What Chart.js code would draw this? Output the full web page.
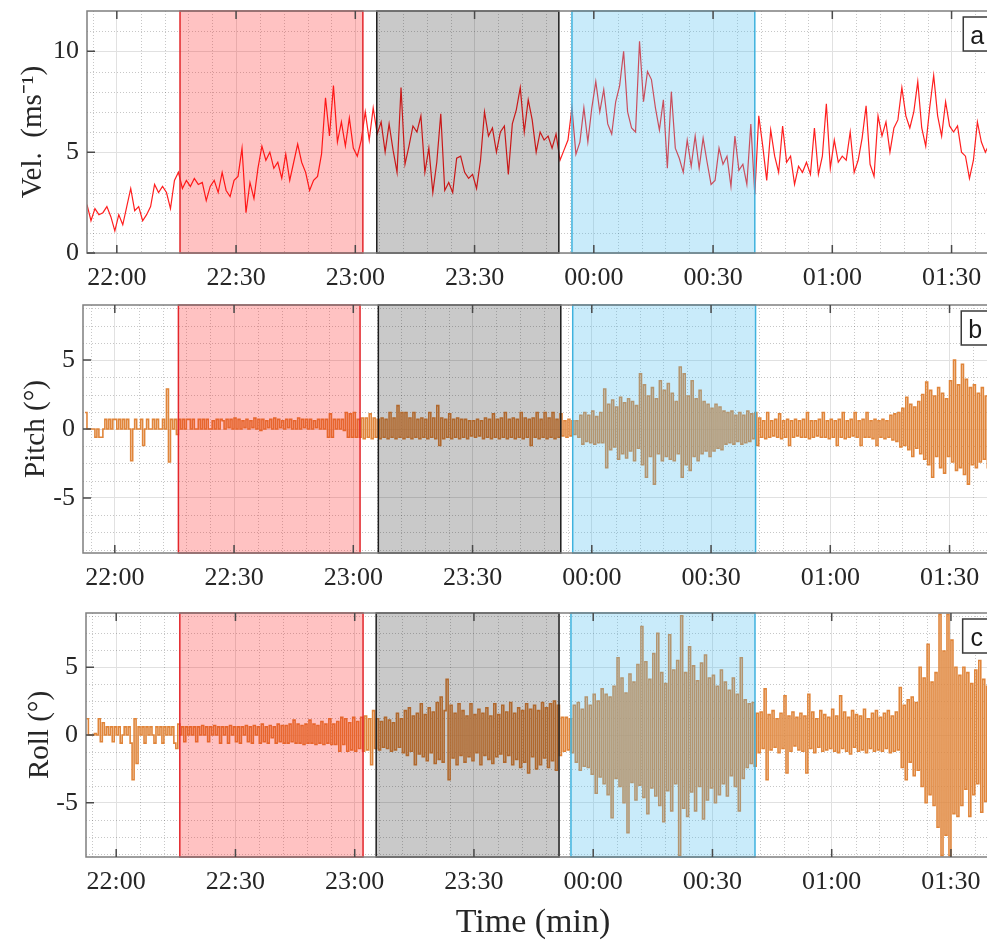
<!DOCTYPE html>
<html>
<head>
<meta charset="utf-8">
<script src="https://cdn.jsdelivr.net/npm/chart.js@4.4.1/dist/chart.umd.min.js"></script>
<style>
  html, body { margin: 0; padding: 0; background: #fff; width: 987px; height: 940px; overflow: hidden; }
  #wrap { position: relative; width: 987px; height: 940px; overflow: hidden; }
  canvas { position: absolute; left: 0; }
  #xtitle { position: absolute; left: 383px; width: 300px; top: 904px; text-align: center;
            font: 34px/34px "Liberation Serif", "Times New Roman", serif; color: #262626; }
</style>
</head>
<body>
<div id="wrap">
  <canvas id="vel" width="1010" height="300" style="top:0px"></canvas>
  <canvas id="pitch" width="1010" height="306" style="top:294px"></canvas>
  <canvas id="roll" width="1010" height="302" style="top:602px"></canvas>
  <div id="xtitle">Time (min)</div>
</div>
<script>
// time axis is in minutes after 22:00
const timeTicks = [0, 30, 60, 90, 120, 150, 180, 210];
const timeLabels = ["22:00", "22:30", "23:00", "23:30", "00:00", "00:30", "01:00", "01:30"];
const velTicks = [0, 5, 10];
const angleTicks = [-5, 0, 5];

// wind speed, one value per minute
const velStart = -7.5, velStep = 1;
const velocity = [
  2.4, 1.6, 2.2, 1.9, 2.0, 2.3, 1.8, 1.1, 1.9, 1.4,
  2.3, 3.2, 2.1, 2.3, 1.6, 1.9, 2.3, 3.4, 3.0, 3.3,
  3.0, 2.2, 3.6, 4.0, 3.2, 3.6, 3.3, 3.7, 3.4, 3.5,
  2.6, 3.3, 3.6, 3.0, 4.0, 3.1, 2.8, 3.6, 3.8, 5.2,
  2.0, 3.5, 2.7, 4.2, 5.3, 4.6, 5.0, 4.2, 4.5, 3.7,
  4.9, 3.6, 4.5, 5.4, 4.5, 4.0, 3.1, 3.6, 3.8, 4.9,
  7.7, 5.8, 8.3, 5.5, 6.5, 5.3, 6.7, 5.2, 4.8, 5.6,
  7.0, 5.6, 7.2, 5.9, 6.5, 5.0, 6.4, 5.1, 4.0, 8.2,
  4.4, 5.3, 6.3, 6.0, 6.8, 4.0, 5.2, 3.0, 4.5, 6.9,
  3.1, 3.5, 3.0, 4.7, 4.8, 4.0, 3.7, 3.9, 3.2, 4.6,
  7.0, 5.8, 6.2, 5.0, 6.0, 6.3, 3.9, 6.4, 7.1, 8.2,
  6.0, 7.6, 6.6, 5.0, 6.0, 5.6, 5.8, 5.2, 5.9, 4.6,
  5.1, 5.6, 7.2, 4.9, 5.5, 7.2, 5.5, 7.2, 8.5, 7.0,
  8.1, 6.4, 5.9, 7.5, 8.3, 10.0, 7.0, 6.2, 6.0, 10.5,
  7.5, 9.0, 8.6, 7.2, 6.1, 7.6, 4.2, 8.0, 5.2, 4.7,
  4.0, 5.6, 4.3, 5.8, 4.2, 5.7, 4.5, 3.4, 3.6, 5.2,
  4.4, 4.8, 3.3, 5.8, 4.1, 4.4, 3.4, 6.4, 2.9, 6.8,
  5.3, 3.6, 6.1, 4.8, 4.0, 6.3, 4.5, 4.8, 3.4, 4.3,
  4.0, 4.5, 3.9, 6.2, 3.9, 4.8, 7.4, 4.2, 5.6, 4.5,
  4.8, 4.6, 6.0, 4.0, 4.6, 5.7, 7.3, 4.4, 3.8, 6.8,
  5.8, 6.5, 5.0, 6.2, 6.6, 8.2, 6.8, 6.2, 7.0, 8.5,
  6.2, 5.3, 7.2, 8.8, 6.8, 5.8, 7.5, 6.3, 6.0, 6.3,
  5.0, 4.8, 3.7, 4.6, 6.5, 5.5, 5.0, 5.4, 4.9, 5.2
];

// pitch and roll, one value per half minute
const attStart = -7.5, attStep = 0.5;
const pitch = [
  1.2, 0, 0, 0, 0, -0.6, 0, -0.6, -0.6, 0, 0.7, 0, 0.7, 0, 0.7, 0.7, 0, 0.7, 0, 0.7,
  0, 0.7, 0, -2.3, 0, 0.7, 0, 0, 0.7, -1.2, 0, 0.7, 0, 0, 0.7, 0, 0.7, 0, 0, 0.7,
  0, 2.9, -2.4, 0.7, 0, 0.7, -0.4, 0.7, 0, 0.7, 0, 0.7, 0.7, 0, 0.7, 0, 0, 0.7, 0, 0.7,
  0, 0.7, 0, 0, 0.6, 0, 0.7, 0, 0.7, 0.6, 0, 0.7, 0.1, 0.7, 0, 0.8, 0, 0.7, 0, 0.6,
  0.1, 0.7, 0, 0.6, 0.1, 0.8, 0, 0.7, -0.1, 0.7, 0, 0.6, 0.1, 0.7, 0, 0.8, 0, 0.7, 0.1, 0.6,
  0, 0.7, 0.1, 0.7, 0, 0.6, 0, 0.8, 0, 0.7, 0.1, 0.7, 0, 0.7, 0, 0.6, 0.1, 0.7, 0, 0.7,
  0, 0.7, -0.6, 1.1, -0.6, 0.7, 0, 0.7, 0, 0.7, -0.1, 1.2, -0.6, 1.1, -0.6, 1.2, -0.6, 0.7, -0.6, 0.8,
  -0.7, 0.8, -0.6, 1.1, -0.7, 0.8, -0.6, 0.7, -0.7, 0.8, -0.6, 0.7, -0.7, 1.2, -0.6, 0.8, -0.7, 1.7, -0.6, 1.2,
  -0.7, 1.2, -0.6, 0.8, -0.7, 1.2, -0.6, 0.7, -0.7, 0.8, -0.6, 0.7, -0.7, 1.2, -0.6, 0.8, -0.7, 1.7, -1.2, 0.8,
  -0.7, 0.7, -0.6, 1.1, -0.7, 0.7, -0.6, 0.8, -0.7, 0.7, -0.6, 0.7, -0.7, 0.6, -0.5, 0.6, -0.6, 0.7, -0.5, 0.6,
  -0.7, 0.8, -0.6, 0.7, -0.7, 1.1, -0.6, 0.7, -0.7, 0.8, -0.6, 1.2, -0.7, 0.7, -0.6, 0.8, -0.7, 0.7, -0.6, 1.2,
  -0.7, 0.8, -0.6, 0.7, -1.2, 0.8, -0.6, 1.2, -0.7, 0.7, -0.6, 1.2, -0.7, 0.8, -0.6, 1.2, -0.7, 0.7, -0.6, 1.1,
  -0.5, 0.6, -0.6, 0.7, -0.5, 0.6, -0.4, 0.6, -0.6, 1.0, -1.1, 1.2, -0.9, 1.0, -1.0, 1.3, -1.1, 0.9, -1.0, 1.2,
  -1.0, 2.9, -2.8, 1.8, -1.5, 2.1, -1.3, 1.6, -2.2, 2.3, -1.8, 1.9, -2.1, 2.2, -1.6, 2.0, -2.3, 1.7, -1.4, 4.0,
  -2.6, 3.2, -3.5, 2.4, -2.0, 3.0, -4.0, 2.2, -1.8, 3.5, -2.3, 2.8, -2.0, 3.3, -2.2, 2.6, -2.3, 2.0, -1.8, 4.5,
  -3.5, 4.0, -2.6, 2.4, -3.0, 3.5, -2.0, 2.2, -2.3, 2.8, -1.8, 2.0, -1.6, 1.8, -2.0, 1.5, -1.6, 1.8, -1.4, 1.6,
  -1.5, 1.3, -1.1, 1.2, -1.0, 1.3, -1.1, 1.0, -0.9, 1.2, -1.1, 1.0, -1.0, 1.3, -0.9, 1.1, -0.7, 1.2, -1.2, 0.8,
  -0.6, 0.6, -0.7, 1.2, -0.6, 0.6, -0.5, 0.7, -0.6, 1.1, -0.7, 0.6, -0.6, 0.7, -1.2, 0.6, -0.6, 0.7, -0.5, 0.6,
  -0.6, 0.7, -0.6, 1.2, -0.7, 0.6, -0.6, 0.6, -0.5, 0.7, -0.6, 1.2, -0.6, 0.6, -0.7, 0.7, -0.6, 0.6, -1.2, 0.7,
  -0.6, 1.2, -0.7, 0.6, -0.6, 0.7, -0.5, 1.2, -0.6, 0.6, -1.2, 0.7, -0.6, 1.2, -0.6, 0.6, -0.7, 0.7, -1.2, 0.6,
  -0.6, 0.7, -0.7, 0.6, -0.6, 1.0, -0.8, 1.1, -0.9, 1.2, -1.3, 1.5, -1.2, 2.3, -1.5, 1.8, -2.0, 1.6, -1.4, 2.0,
  -1.8, 2.5, -2.2, 3.4, -2.6, 2.8, -3.5, 2.4, -2.0, 3.0, -2.8, 2.6, -3.2, 2.2, -2.0, 3.5, -2.4, 5.0, -3.0, 3.2,
  -2.8, 4.7, -3.3, 3.6, -4.0, 3.0, -2.6, 3.2, -2.8, 2.6, -2.4, 3.0, -2.2, 2.4, -2.8, 2.6, -2.0, 2.8, -2.3, 2.2
];
const roll = [
  1.2, 0, 0, 0, 0.1, 0, 1.2, -0.5, 0.9, 0, 0.6, 0, 0.6, -0.5, 0.6, 0, 0.6, -0.6, 0, 0.6,
  0, 0.6, -0.6, -3.3, 1.2, -2.1, 0.6, 0, 0.6, -0.6, 0.6, 0, 0.6, 0, -0.6, 0.6, 0, 0.6, -0.6, 0.6,
  0, 0.6, 0, 0.6, -0.6, -1.0, 0.8, 0, 0.6, -0.5, 0.6, 0, 0.6, 0, 0.6, -0.5, 0.6, 0, 0.7, 0,
  0.6, -0.5, 0.6, 0, 0.7, 0, 0.6, -0.6, 0.6, 0, 0.6, -0.6, 0.7, 0, 0.6, -0.5, 0.6, -0.6, 0.6, 0,
  0.7, -0.5, 0.6, -0.6, 0.7, 0, 0.6, -0.6, 0.8, -0.5, 0.6, -0.6, 0.7, -0.2, 0.6, -0.6, 0.8, -0.5, 0.7, -0.6,
  0.7, -0.6, 0.8, -0.5, 1.1, -0.6, 0.8, -0.6, 0.7, -0.7, 0.8, -0.6, 1.1, -0.6, 0.8, -0.7, 0.7, -0.6, 1.0, -0.7,
  0.8, -0.6, 1.2, -0.7, 0.8, -0.7, 1.0, -1.2, 1.3, -0.7, 1.2, -1.2, 0.9, -1.1, 1.3, -1.2, 1.0, -1.0, 1.3, -1.2,
  1.4, -1.1, 1.2, -2.2, 1.8, -1.0, 1.2, -1.1, 1.0, -0.9, 1.3, -1.0, 1.1, -1.2, 0.9, -1.1, 1.6, -0.9, 1.2, -1.3,
  1.8, -1.5, 2.0, -1.2, 1.4, -2.2, 1.6, -1.4, 2.3, -1.6, 1.5, -1.9, 2.0, -1.3, 1.7, -2.1, 2.4, -1.8, 2.8, -2.0,
  1.8, 4.1, -3.3, 2.2, -1.7, 1.6, -2.2, 2.3, -1.5, 1.8, -2.0, 1.4, -1.6, 2.3, -1.9, 1.5, -1.3, 1.9, -2.2, 1.6,
  -1.5, 2.0, -1.8, 1.4, -2.1, 2.3, -1.6, 1.5, -1.4, 2.2, -2.0, 1.7, -1.5, 2.4, -2.2, 1.6, -1.8, 2.0, -2.4, 1.8,
  -2.0, 2.3, -2.8, 1.9, -1.6, 2.2, -2.5, 1.8, -2.2, 2.4, -1.7, 2.0, -2.4, 2.3, -1.9, 2.5, -2.6, 2.2, -1.5, 1.3,
  -1.2, 1.3, -1.1, 1.2, -1.3, 2.2, -2.0, 2.4, -2.6, 1.9, -2.3, 2.8, -2.4, 2.2, -2.9, 3.0, -4.3, 2.5, -3.1, 3.4,
  -3.6, 3.0, -4.4, 2.8, -6.1, 3.6, -3.2, 5.7, -3.8, 4.2, -5.0, 3.1, -7.2, 4.5, -3.5, 3.9, -4.8, 5.2, -3.7, 8.0,
  -4.6, 5.4, -5.8, 4.1, -3.9, 6.0, -4.5, 7.5, -5.2, 4.6, -6.4, 3.8, -4.1, 7.4, -5.6, 4.8, -3.6, 5.5, -8.9, 8.8,
  -5.4, 4.6, -6.0, 6.5, -4.2, 5.1, -5.6, 4.0, -3.8, 5.3, -6.2, 5.9, -4.8, 4.2, -3.9, 4.4, -5.0, 3.6, -4.4, 4.8,
  -3.6, 3.9, -4.5, 3.3, -3.0, 4.2, -3.8, 3.0, -5.6, 5.7, -3.2, 2.6, -2.4, 2.3, -2.1, 2.4, -2.3, 1.6, -1.3, 1.7,
  -1.0, 3.4, -3.3, 1.5, -1.1, 1.8, -0.9, 1.2, -1.3, 1.6, -1.0, 2.9, -2.8, 1.4, -1.2, 1.7, -0.8, 1.3, -1.1, 1.6,
  -1.2, 1.4, -2.8, 3.0, -1.0, 1.7, -1.3, 1.2, -0.9, 1.8, -1.2, 1.5, -1.1, 1.3, -1.0, 1.9, -1.2, 1.4, -1.3, 2.9,
  -1.0, 1.7, -1.2, 1.3, -1.4, 1.8, -0.9, 1.5, -1.2, 1.4, -1.1, 1.9, -1.3, 1.2, -1.0, 1.6, -1.2, 1.8, -1.1, 1.3,
  -1.2, 1.6, -1.0, 1.8, -1.3, 1.4, -1.2, 1.7, -1.1, 3.5, -2.4, 2.2, -3.3, 2.6, -2.0, 2.8, -3.0, 2.4, -2.6, 5.0,
  -3.8, 4.2, -5.0, 6.7, -4.4, 3.9, -5.2, 4.6, -6.8, 8.9, -8.9, 6.2, -7.4, 8.9, -8.9, 7.0, -5.8, 5.0, -6.0, 4.4,
  -5.2, 5.0, -4.0, 4.6, -6.0, 3.8, -4.4, 4.8, -3.6, 5.5, -5.7, 4.1, -4.9, 3.6, -5.0, 4.4, -3.8, 4.9, -4.5, 3.7
];

// shaded periods [start, end], minutes after 22:00 (red, gray, cyan)
const periodsVel = [[15.9, 61.9], [65.4, 111.2], [114.5, 160.5]];
const periodsPitch = [[16.0, 61.7], [66.3, 112.2], [115.2, 161.2]];
const periodsRoll = [[16.0, 62.1], [65.4, 111.4], [114.4, 160.7]];

const periodStyles = [
  { fill: "rgba(255,0,0,0.24)", edge: "#e3262b" },
  { fill: "rgba(0,0,0,0.21)", edge: "#1c1c1c" },
  { fill: "rgba(77,190,238,0.30)", edge: "#3fb2de" }
];

const serif = '"Liberation Serif", "Times New Roman", serif';
const textColor = "#262626";
const pxPerMin = 3.975;
const xMax = 222;

function toPoints(start, step, values) {
  return values.map((v, i) => ({ x: start + i * step, y: v }));
}

const panelDecor = {
  id: "panelDecor",
  beforeDatasetsDraw(chart, args, o) {
    const { ctx, chartArea: a } = chart;
    const x = chart.scales.x, y = chart.scales.y;
    ctx.save();
    ctx.strokeStyle = "rgba(0,0,0,0.22)";
    ctx.lineWidth = 1;
    ctx.setLineDash([1, 2]);
    ctx.beginPath();
    for (let t = -6; t < x.max; t += 6) {
      if (t % 30 === 0 || t <= x.min) continue;
      const px = Math.round(x.getPixelForValue(t)) + 0.5;
      ctx.moveTo(px, a.top);
      ctx.lineTo(px, a.bottom);
    }
    const k0 = Math.ceil(y.min / o.minorY), k1 = Math.floor(y.max / o.minorY);
    for (let k = k0; k <= k1; k++) {
      const v = k * o.minorY;
      if (k % o.minorPerMajor === 0 || v <= y.min || v >= y.max) continue;
      const py = Math.round(y.getPixelForValue(v)) + 0.5;
      ctx.moveTo(a.left, py);
      ctx.lineTo(a.right, py);
    }
    ctx.stroke();
    ctx.restore();
  },
  afterDatasetsDraw(chart, args, o) {
    const { ctx, chartArea: a } = chart;
    const x = chart.scales.x;
    ctx.save();
    o.periods.forEach((p, i) => {
      const st = periodStyles[i];
      const x0 = x.getPixelForValue(p[0]), x1 = x.getPixelForValue(p[1]);
      ctx.fillStyle = st.fill;
      ctx.fillRect(x0, a.top, x1 - x0, a.bottom - a.top);
      ctx.strokeStyle = st.edge;
      ctx.lineWidth = 1.5;
      ctx.strokeRect(x0, a.top, x1 - x0, a.bottom - a.top);
    });
    ctx.restore();
  },
  afterDraw(chart, args, o) {
    const { ctx, chartArea: a } = chart;
    const x = chart.scales.x, y = chart.scales.y;
    ctx.save();
    // axes box
    ctx.strokeStyle = "#7f7f7f";
    ctx.lineWidth = 1.5;
    ctx.strokeRect(a.left, a.top, a.right - a.left, a.bottom - a.top);
    // inward tick marks
    ctx.strokeStyle = "#4a4a4a";
    ctx.beginPath();
    timeTicks.forEach(t => {
      const px = x.getPixelForValue(t);
      ctx.moveTo(px, a.bottom); ctx.lineTo(px, a.bottom - 8);
      ctx.moveTo(px, a.top); ctx.lineTo(px, a.top + 8);
    });
    o.yTicks.forEach(v => {
      const py = y.getPixelForValue(v);
      ctx.moveTo(a.left, py); ctx.lineTo(a.left + 8, py);
      ctx.moveTo(a.right, py); ctx.lineTo(a.right - 8, py);
    });
    ctx.stroke();
    // panel letter
    const bx = a.right - 36, by = a.top + 6;
    ctx.fillStyle = "#fff";
    ctx.fillRect(bx, by, 31, 34);
    ctx.strokeStyle = "#3a3a3a";
    ctx.lineWidth = 1.5;
    ctx.strokeRect(bx, by, 31, 34);
    ctx.fillStyle = "#1a1a1a";
    ctx.font = '25px "Liberation Sans", Arial, sans-serif';
    ctx.textAlign = "center";
    ctx.textBaseline = "alphabetic";
    ctx.fillText(o.letter, bx + 14, by + 27);
    ctx.restore();
  }
};

function makePanel(id, p) {
  const canvas = document.getElementById(id);
  const plotRight = p.plotLeft + (xMax - p.xMin) * pxPerMin;
  return new Chart(canvas, {
    type: "line",
    data: {
      datasets: [{
        data: toPoints(p.start, p.step, p.values),
        borderColor: p.color,
        borderWidth: p.lineWidth,
        stepped: p.stepped,
        pointRadius: 0,
        tension: 0,
        fill: false
      }]
    },
    options: {
      responsive: false,
      animation: false,
      devicePixelRatio: 1,
      events: [],
      layout: { padding: { top: 11, left: 0, bottom: 0, right: canvas.width - plotRight } },
      scales: {
        x: {
          type: "linear",
          min: p.xMin,
          max: xMax,
          afterBuildTicks: s => { s.ticks = timeTicks.map(v => ({ value: v })); },
          afterFit: s => { s.height = 47; s.paddingLeft = 0; s.paddingRight = 0; },
          ticks: {
            autoSkip: false,
            maxRotation: 0,
            padding: 10,
            color: textColor,
            font: { family: serif, size: 26 },
            callback: v => timeLabels[timeTicks.indexOf(v)]
          },
          grid: { color: "#e1e1e1", drawTicks: false },
          border: { display: false }
        },
        y: {
          type: "linear",
          min: p.yMin,
          max: p.yMax,
          afterBuildTicks: s => { s.ticks = p.yTicks.map(v => ({ value: v })); },
          afterFit: s => { s.width = p.plotLeft; s.paddingTop = 0; s.paddingBottom = 0; },
          ticks: {
            padding: 8,
            color: textColor,
            font: { family: serif, size: 26 },
            callback: v => String(v)
          },
          grid: { color: "#e1e1e1", drawTicks: false },
          border: { display: false },
          title: {
            display: true,
            text: p.title,
            color: textColor,
            font: { family: serif, size: 29 },
            padding: { top: p.titlePad, bottom: 0 }
          }
        }
      },
      plugins: {
        legend: { display: false },
        tooltip: { enabled: false },
        panelDecor: {
          periods: p.periods,
          yTicks: p.yTicks,
          minorY: p.minorY,
          minorPerMajor: p.minorPerMajor,
          letter: p.letter
        }
      }
    },
    plugins: [panelDecor]
  });
}

makePanel("vel", {
  values: velocity, start: velStart, step: velStep,
  color: "#ff1f1f", lineWidth: 1.2, stepped: false,
  yMin: 0, yMax: 12, yTicks: velTicks, minorY: 1, minorPerMajor: 5,
  title: "Vel.  (ms\u207B\u00B9)", titlePad: 16,
  plotLeft: 87, xMin: -7.5, periods: periodsVel, letter: "a"
});
makePanel("pitch", {
  values: pitch, start: attStart, step: attStep,
  color: "#e0853a", lineWidth: 1.6, stepped: true,
  yMin: -9, yMax: 9, yTicks: angleTicks, minorY: 1.25, minorPerMajor: 4,
  title: "Pitch (\u00B0)", titlePad: 19,
  plotLeft: 83, xMin: -8.0, periods: periodsPitch, letter: "b"
});
makePanel("roll", {
  values: roll, start: attStart, step: attStep,
  color: "#e0853a", lineWidth: 1.6, stepped: true,
  yMin: -9, yMax: 9, yTicks: angleTicks, minorY: 1.25, minorPerMajor: 4,
  title: "Roll (\u00B0)", titlePad: 23,
  plotLeft: 86, xMin: -7.6, periods: periodsRoll, letter: "c"
});
</script>
</body>
</html>
